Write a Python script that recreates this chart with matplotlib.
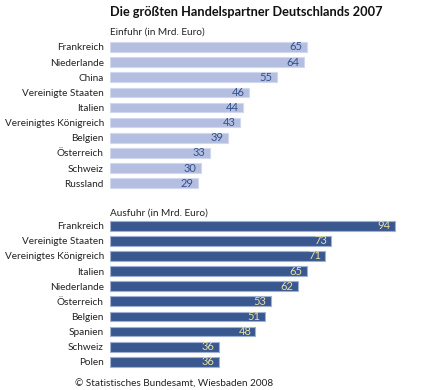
import matplotlib
matplotlib.use("Agg")
import matplotlib.pyplot as plt

import_countries = ["Frankreich", "Niederlande", "China", "Vereinigte Staaten", "Italien",
                    "Vereinigtes Königreich", "Belgien", "Österreich", "Schweiz", "Russland"]
import_values = [65, 64, 55, 46, 44, 43, 39, 33, 30, 29]
export_countries = ["Frankreich", "Vereinigte Staaten", "Vereinigtes Königreich", "Italien",
                    "Niederlande", "Österreich", "Belgien", "Spanien", "Schweiz", "Polen"]
export_values = [94, 73, 71, 65, 62, 53, 51, 48, 36, 36]

title = "Die größten Handelspartner Deutschlands 2007"
import_label = "Einfuhr (in Mrd. Euro)"
export_label = "Ausfuhr (in Mrd. Euro)"
source = "© Statistisches Bundesamt, Wiesbaden 2008"

FONT = ["Lato", "DejaVu Sans"]
plt.rcParams['font.family'] = FONT
FS = 7.2

W, H = 422, 390
fig = plt.figure(figsize=(W / 100, H / 100), dpi=100)

gap = 11.81
imp_pos = list(range(len(import_values)))
exp_pos = [gap + j for j in range(len(export_values))]

top_px, bot_px = 39.4, 369.4
ax = fig.add_axes([110 / W, (H - bot_px) / H, 303 / W, (bot_px - top_px) / H])
ax.set_xlim(0, 100)
ax.set_ylim(exp_pos[-1] + 0.5, -0.5)

c_imp, e_imp, t_imp = "#b4bee0", "#d2d8ee", "#34508a"
c_exp, e_exp, t_exp = "#3a5890", "#9fb0d4", "#e8dfa0"

bh = 0.64
ax.barh(imp_pos, import_values, height=bh, color=c_imp, edgecolor=e_imp, linewidth=0.8)
ax.barh(exp_pos, export_values, height=bh, color=c_exp, edgecolor=e_exp, linewidth=0.8)

for p, v in zip(imp_pos, import_values):
    ax.annotate(str(v), (v, p), xytext=(-3, 0), textcoords="offset points",
                ha="right", va="center", fontsize=8, color=t_imp)
for p, v in zip(exp_pos, export_values):
    ax.annotate(str(v), (v, p), xytext=(-3, 0), textcoords="offset points",
                ha="right", va="center", fontsize=8, color=t_exp)

ax.set_yticks(imp_pos + exp_pos)
ax.set_yticklabels(import_countries + export_countries, fontsize=FS, color="#222222")
ax.tick_params(axis="y", length=0, pad=4.5)
ax.set_xticks([])
for s in ax.spines.values():
    s.set_visible(False)

fig.text(110 / W, 1 - 12 / H, title, fontsize=9.2, fontweight="bold", color="#111111",
         ha="left", va="center")
fig.text(110 / W, 1 - 32 / H, import_label, fontsize=FS, color="#222222", ha="left", va="center")
fig.text(110 / W, 1 - 213 / H, export_label, fontsize=FS, color="#222222", ha="left", va="center")
fig.text(174 / W, 1 - 384 / H, source, fontsize=FS, color="#222222", ha="center", va="center")

fig.savefig("out.png", dpi=100, facecolor="white")
